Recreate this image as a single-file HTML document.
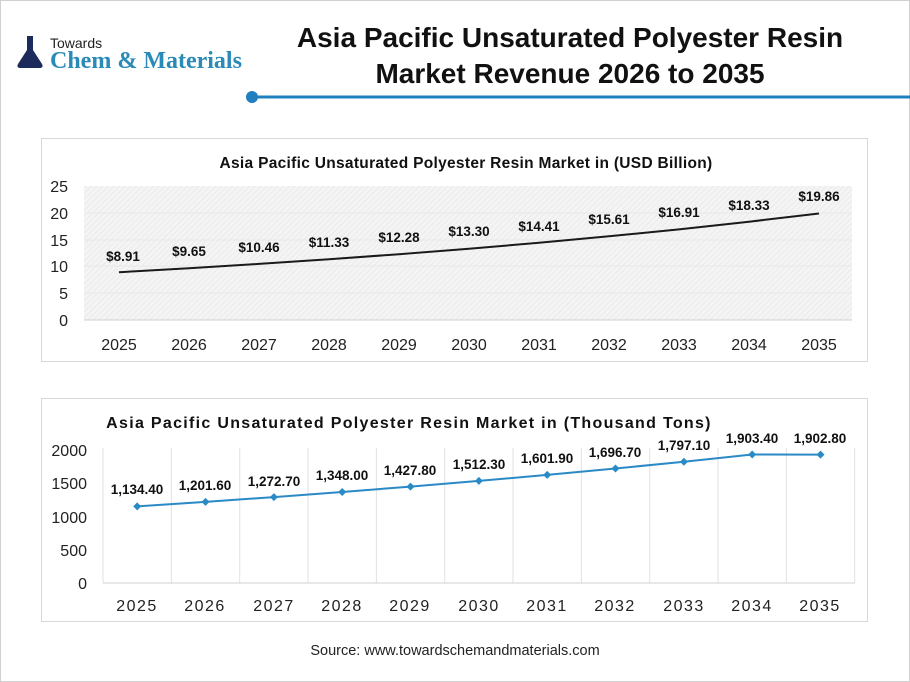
<!DOCTYPE html>
<html><head><meta charset="utf-8"><style>
body{margin:0;background:#fff;}
svg{display:block;font-family:"Liberation Sans",sans-serif;}
</style></head><body>
<svg width="910" height="682" viewBox="0 0 910 682" xmlns="http://www.w3.org/2000/svg">
<defs>
<pattern id="hatch" width="4" height="4" patternUnits="userSpaceOnUse" patternTransform="rotate(45)">
<rect width="4" height="4" fill="#f4f4f4"/><line x1="0" y1="0" x2="0" y2="4" stroke="#e2e2e2" stroke-width="1"/>
</pattern>
</defs>
<rect x="0.5" y="0.5" width="909" height="681" fill="#fff" stroke="#d0d0d0"/>
<g transform="translate(17,36)">
<path d="M10 4 h6 v10 l9 14 q2 4 -3 4 h-18 q-5 0 -3 -4 l9 -14z" fill="#1d2a5c"/>
<rect x="10" y="0" width="6" height="4" fill="#1d2a5c"/>
</g>
<text x="50" y="48" font-size="14" fill="#222">Towards</text>
<text x="50" y="68" font-size="24" font-family="Liberation Serif,serif" font-weight="bold" fill="#2a8ab8">Chem &amp; Materials</text>
<text x="570" y="47" font-size="28" font-weight="bold" text-anchor="middle" fill="#111">Asia Pacific Unsaturated Polyester Resin</text>
<text x="570" y="83" font-size="28" font-weight="bold" text-anchor="middle" fill="#111">Market Revenue 2026 to 2035</text>
<circle cx="252" cy="97" r="6" fill="#1f7fc0"/>
<line x1="252" y1="97" x2="910" y2="97" stroke="#1f7fc0" stroke-width="3"/>

<rect x="41.5" y="138.5" width="826" height="223" fill="#fff" stroke="#d8d8d8"/>
<text x="466" y="168" font-size="15.5" font-weight="bold" text-anchor="middle" fill="#111" letter-spacing="0.3">Asia Pacific Unsaturated Polyester Resin Market in (USD Billion)</text>
<rect x="84" y="186" width="768" height="134" fill="url(#hatch)"/>
<g stroke="#e8e8e8" stroke-width="1">
<line x1="84" y1="213" x2="852" y2="213"/><line x1="84" y1="240" x2="852" y2="240"/><line x1="84" y1="266" x2="852" y2="266"/><line x1="84" y1="293" x2="852" y2="293"/>
</g>
<line x1="84" y1="320" x2="852" y2="320" stroke="#d0d0d0"/>
<g font-size="16" fill="#222" text-anchor="end">
<text x="68" y="192">25</text><text x="68" y="219">20</text><text x="68" y="246">15</text><text x="68" y="272">10</text><text x="68" y="299">5</text><text x="68" y="326">0</text>
</g>
<polyline fill="none" stroke="#1a1a1a" stroke-width="2" points="119,272.2 189,268.3 259,263.9 329,259.3 399,254.2 469,248.7 539,242.8 609,236.3 679,229.4 749,221.7 819,213.5"/>
<g font-size="13.5" font-weight="bold" fill="#111" text-anchor="middle">
<text x="123" y="261">$8.91</text><text x="189" y="256">$9.65</text><text x="259" y="252">$10.46</text><text x="329" y="247">$11.33</text><text x="399" y="242">$12.28</text><text x="469" y="236">$13.30</text><text x="539" y="231">$14.41</text><text x="609" y="224">$15.61</text><text x="679" y="217">$16.91</text><text x="749" y="210">$18.33</text><text x="819" y="201">$19.86</text>
</g>
<g font-size="16" fill="#222" text-anchor="middle">
<text x="119" y="350">2025</text><text x="189" y="350">2026</text><text x="259" y="350">2027</text><text x="329" y="350">2028</text><text x="399" y="350">2029</text><text x="469" y="350">2030</text><text x="539" y="350">2031</text><text x="609" y="350">2032</text><text x="679" y="350">2033</text><text x="749" y="350">2034</text><text x="819" y="350">2035</text>
</g>

<rect x="41.5" y="398.5" width="826" height="223" fill="#fff" stroke="#d8d8d8"/>
<text x="409" y="428" font-size="16" font-weight="bold" text-anchor="middle" fill="#111" letter-spacing="1.3">Asia Pacific Unsaturated Polyester Resin Market in (Thousand Tons)</text>
<g stroke="#e2e2e2">
<line x1="103" y1="448" x2="103" y2="583"/><line x1="171.4" y1="448" x2="171.4" y2="583"/><line x1="239.7" y1="448" x2="239.7" y2="583"/><line x1="308" y1="448" x2="308" y2="583"/><line x1="376.4" y1="448" x2="376.4" y2="583"/><line x1="444.7" y1="448" x2="444.7" y2="583"/><line x1="513" y1="448" x2="513" y2="583"/><line x1="581.4" y1="448" x2="581.4" y2="583"/><line x1="649.7" y1="448" x2="649.7" y2="583"/><line x1="718" y1="448" x2="718" y2="583"/><line x1="786.4" y1="448" x2="786.4" y2="583"/><line x1="854.7" y1="448" x2="854.7" y2="583"/>
</g>
<line x1="103" y1="583" x2="855" y2="583" stroke="#d0d0d0"/>
<g font-size="16" fill="#222" text-anchor="end">
<text x="87" y="456">2000</text><text x="87" y="489">1500</text><text x="87" y="523">1000</text><text x="87" y="556">500</text><text x="87" y="589">0</text>
</g>
<polyline fill="none" stroke="#2a8ac6" stroke-width="2" points="137.2,506.4 205.5,501.9 273.9,497.1 342.2,492 410.5,486.6 478.9,480.9 547.2,474.9 615.5,468.5 683.9,461.7 752.2,454.5 820.5,454.6"/>
<g fill="#2a8ac6">
<path d="M137.2 502.4l4 4-4 4-4-4z"/><path d="M205.5 497.9l4 4-4 4-4-4z"/><path d="M273.9 493.1l4 4-4 4-4-4z"/><path d="M342.2 488l4 4-4 4-4-4z"/><path d="M410.5 482.6l4 4-4 4-4-4z"/><path d="M478.9 476.9l4 4-4 4-4-4z"/><path d="M547.2 470.9l4 4-4 4-4-4z"/><path d="M615.5 464.5l4 4-4 4-4-4z"/><path d="M683.9 457.7l4 4-4 4-4-4z"/><path d="M752.2 450.5l4 4-4 4-4-4z"/><path d="M820.5 450.6l4 4-4 4-4-4z"/>
</g>
<g font-size="13.5" font-weight="bold" fill="#111" text-anchor="middle">
<text x="137" y="494">1,134.40</text><text x="205" y="490">1,201.60</text><text x="274" y="486">1,272.70</text><text x="342" y="480">1,348.00</text><text x="410" y="475">1,427.80</text><text x="479" y="469">1,512.30</text><text x="547" y="463">1,601.90</text><text x="615" y="457">1,696.70</text><text x="684" y="450">1,797.10</text><text x="752" y="443">1,903.40</text><text x="820" y="443">1,902.80</text>
</g>
<g font-size="16" fill="#222" text-anchor="middle" letter-spacing="1.5">
<text x="137" y="611">2025</text><text x="205" y="611">2026</text><text x="274" y="611">2027</text><text x="342" y="611">2028</text><text x="410" y="611">2029</text><text x="479" y="611">2030</text><text x="547" y="611">2031</text><text x="615" y="611">2032</text><text x="684" y="611">2033</text><text x="752" y="611">2034</text><text x="820" y="611">2035</text>
</g>
<text x="455" y="655" font-size="14.5" text-anchor="middle" fill="#222">Source: www.towardschemandmaterials.com</text>
</svg>
</body></html>
